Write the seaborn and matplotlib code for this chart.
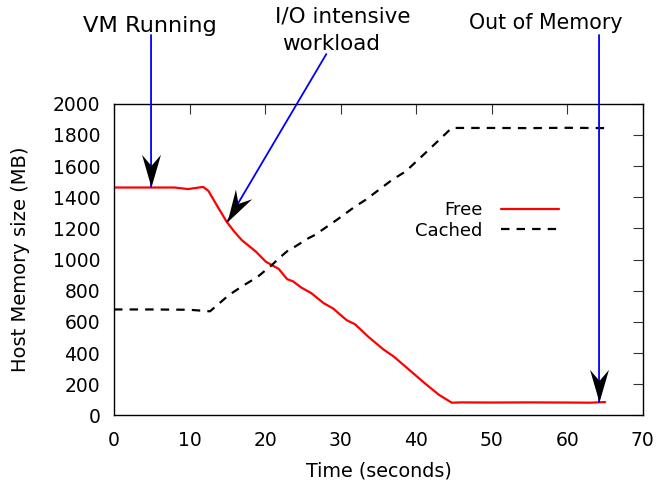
import matplotlib
matplotlib.use("Agg")
import matplotlib.pyplot as plt
import seaborn as sns
import pandas as pd
import numpy as np
from matplotlib.path import Path
from matplotlib.markers import MarkerStyle
from matplotlib.transforms import Affine2D

sns.set_theme(style="white")
plt.rcParams['font.family'] = ['DejaVu Sans']
plt.rcParams.update({'text.color': 'black', 'axes.labelcolor': 'black',
                     'xtick.color': 'black', 'ytick.color': 'black'})

# ---- data ----
free_t = [0, 2, 4, 6, 8, 9.8, 11.8, 12.5, 13.7, 14.9, 15.9, 16.9, 18.8, 20.1, 21.8,
          22.9, 23.7, 24.8, 26.1, 27.7, 29.0, 30.8, 31.9, 33.7, 35.7, 37.0, 39.4,
          41.2, 43.0, 44.7, 46, 50, 55, 60, 63, 65]
free_mb = [1462, 1462, 1462, 1462, 1462, 1452, 1466, 1440, 1340, 1243, 1180, 1125,
           1050, 986, 940, 875, 860, 820, 785, 722, 686, 611, 585, 503, 422, 379,
           279, 204, 133, 82, 84, 83, 84, 83, 82, 86]
cached_t = [0, 5, 10, 12.7, 15.2, 17, 19.0, 20.9, 21.8, 23.1, 23.6, 25.7, 26.6,
            29.5, 31.9, 33.3, 36.8, 38.6, 41.2, 44.7, 50, 55, 60, 65]
cached_mb = [680, 680, 678, 668, 772, 830, 889, 965, 1007, 1061, 1072, 1136, 1158,
             1255, 1340, 1383, 1511, 1565, 1683, 1844, 1844, 1843, 1845, 1843]
series_names = ["Free", "Cached"]
x_ticks = [0, 10, 20, 30, 40, 50, 60, 70]
y_ticks = [0, 200, 400, 600, 800, 1000, 1200, 1400, 1600, 1800, 2000]
x_label = "Time (seconds)"
y_label = "Host Memory size (MB)"
notes = ["VM Running", "I/O intensive", "workload", "Out of Memory"]

df = pd.concat([
    pd.DataFrame({"t": free_t, "mb": free_mb, "s": series_names[0]}),
    pd.DataFrame({"t": cached_t, "mb": cached_mb, "s": series_names[1]}),
])

fig = plt.figure(figsize=(6.58, 4.82), dpi=100)
ax = fig.add_axes([0.1733, 0.138, 0.8037, 0.647])

sns.lineplot(data=df[df.s == "Free"], x="t", y="mb", color="#ff0000", lw=1.6,
             ax=ax, label="Free", sort=False)
sns.lineplot(data=df[df.s == "Cached"], x="t", y="mb", color="black", lw=1.6,
             ax=ax, label="Cached", sort=False, dashes=False)
ax.lines[1].set_dashes((3.8, 3.2))

ax.set_xlim(0, 70)
ax.set_ylim(0, 2000)
ax.set_xticks(x_ticks)
ax.set_yticks(y_ticks)
ax.set_xlabel(x_label, fontsize=13.8, labelpad=8.5)
ax.set_ylabel(y_label, fontsize=14, labelpad=16)
ax.tick_params(axis='both', which='both', direction='in', length=7, width=0.8,
               top=True, right=True, labelsize=13.5, color='#333333')
ax.tick_params(axis='x', pad=11)
ax.tick_params(axis='y', pad=10)
for sp in ax.spines.values():
    sp.set_color('black')
    sp.set_linewidth(1.0)
ax.grid(False)

leg = ax.legend(loc='upper left', bbox_to_anchor=(0.555, 0.711), frameon=False,
                markerfirst=False, fontsize=13, handlelength=3.2,
                handletextpad=1.05, labelspacing=0.15, borderaxespad=0)
for h in leg.get_lines():
    h.set_linewidth(1.6)
leg.get_lines()[1].set_dashes((3.8, 3.2))

# notched arrow head (pointing down, tip at origin)
head = Path([(0, 0), (-0.29, 1.0), (0, 0.66), (0.29, 1.0), (0, 0)],
            [Path.MOVETO, Path.LINETO, Path.LINETO, Path.LINETO, Path.CLOSEPOLY])

def arrow(x0, y0, x1, y1):
    ax.annotate("", xy=(x1, y1), xytext=(x0, y0), xycoords='data',
                annotation_clip=False,
                arrowprops=dict(arrowstyle='-', color='blue', lw=1.3,
                                shrinkA=0, shrinkB=0))
    p0 = ax.transData.transform((x0, y0))
    p1 = ax.transData.transform((x1, y1))
    d = p1 - p0
    ang = np.degrees(np.arctan2(d[1], d[0])) + 90.0
    m = MarkerStyle(head, transform=Affine2D().rotate_deg(ang))
    ax.plot([x1], [y1], marker=m, markersize=47, color='black', lw=0,
            markeredgewidth=0, clip_on=False, zorder=5)

arrow(4.9, 2440, 4.9, 1466)
arrow(28.1, 2318, 15.0, 1244)
arrow(64.2, 2440, 64.2, 86)

ax.text(4.7, 2495, notes[0], fontsize=16.2, ha='center', va='center', clip_on=False)
ax.text(30.3, 2560, notes[1], fontsize=15.5, ha='center', va='center', clip_on=False)
ax.text(28.7, 2385, notes[2], fontsize=15.5, ha='center', va='center', clip_on=False)
ax.text(57.1, 2520, notes[3], fontsize=14.8, ha='center', va='center', clip_on=False)

fig.savefig("out.png", dpi=100)
